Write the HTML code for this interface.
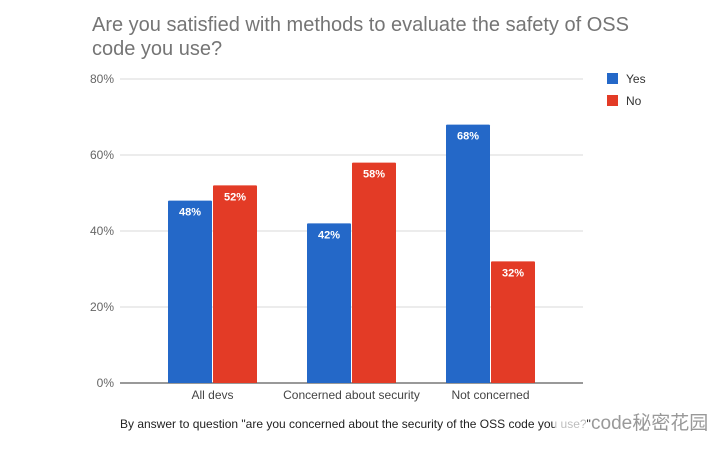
<!DOCTYPE html>
<html><head><meta charset="utf-8"><style>
body{margin:0;background:#fff;width:726px;height:452px;overflow:hidden;font-family:"Liberation Sans",Arial,sans-serif}
</style></head><body>
<svg width="726" height="452" xmlns="http://www.w3.org/2000/svg" font-family="Liberation Sans, Arial, sans-serif">
<text x="92" y="31" font-size="20" fill="#757575">Are you satisfied with methods to evaluate the safety of OSS</text>
<text x="92" y="55" font-size="20" fill="#757575">code you use?</text>
<g id="grid"></g>
<g id="bars"></g>
<g>
<rect x="607" y="73" width="11" height="11" fill="#2468c8"/>
<text x="626" y="83" font-size="12" fill="#333">Yes</text>
<rect x="607" y="95" width="11" height="11" fill="#e33b26"/>
<text x="626" y="105" font-size="12" fill="#333">No</text>
</g>
<text x="120" y="428" font-size="12" fill="#222">By answer to question "are you concerned about the security of the OSS code you use?"</text>
<rect x="555" y="410" width="32" height="26" fill="#fff" opacity="0.7"/>
<text x="591" y="429" font-size="19" fill="#999" font-family="Liberation Sans, Noto Sans CJK SC, sans-serif">code秘密花园</text>
</svg>
<script>
const categories=["All devs","Concerned about security","Not concerned"];
const yesValues=[48,42,68];
const noValues=[52,58,32];
const tickLabels=["0%","20%","40%","60%","80%"];
const tickValues=[0,20,40,60,80];
const NS="http://www.w3.org/2000/svg";
const y0=383,pxPer=76/20,left=120,right=583;
const y=v=>y0-v*pxPer;
const xc=i=>212.5+i*139;
function mk(tag,attrs,parent,text){const e=document.createElementNS(NS,tag);for(const k in attrs)e.setAttribute(k,attrs[k]);if(text!==undefined)e.textContent=text;parent.appendChild(e);return e;}
const grid=document.getElementById('grid'),bars=document.getElementById('bars');
tickValues.forEach((v,i)=>{
 const l=mk('line',{x1:left,x2:right,y1:y(v),y2:y(v),stroke:v===0?'#333':'#d9d9d9','stroke-width':1},grid);
 
 
 const t=mk('text',{x:114,y:y(v)+4,'text-anchor':'end','font-size':12,fill:'#666'},grid,tickLabels[i]);
 
 
});
categories.forEach((c,i)=>{
 const t=mk('text',{x:xc(i),y:399,'text-anchor':'middle','font-size':12,fill:'#444'},grid,c);
 
 
 [[yesValues[i],'#2468c8',xc(i)-44.5,'yes'],[noValues[i],'#e33b26',xc(i)+0.5,'no']].forEach(([v,col,x,s])=>{
  const r=mk('rect',{x:x,y:y(v),width:44,height:y0-y(v),fill:col,rx:1},bars);
  
  
  const lb=mk('text',{x:x+22,y:y(v)+15,'text-anchor':'middle','font-size':11,'font-weight':'bold',fill:'#fff'},bars,v+'%');
  
  
 });
});
</script>
</body></html>
